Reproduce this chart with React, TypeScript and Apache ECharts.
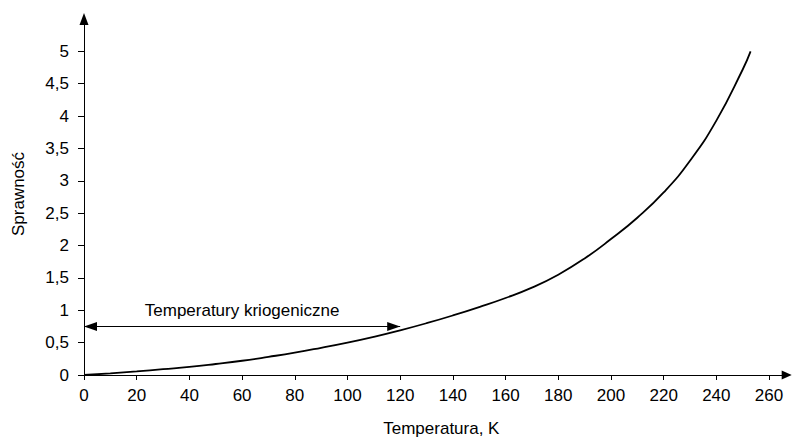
import React, { useEffect, useRef } from "react";
import * as echarts from "echarts";

// Temperature (K) and efficiency (COP)
const temperature = [0, 10, 20, 30, 40, 50, 60, 70, 80, 90, 100, 110, 120, 130, 140, 150, 160, 170, 180, 190, 200, 210, 220, 230, 240, 250, 253];
const efficiency = [0, 0.025, 0.055, 0.09, 0.125, 0.17, 0.22, 0.28, 0.345, 0.42, 0.5, 0.59, 0.69, 0.8, 0.92, 1.05, 1.19, 1.35, 1.55, 1.8, 2.1, 2.43, 2.82, 3.31, 3.93, 4.72, 5.0];

const xTicks = [0, 20, 40, 60, 80, 100, 120, 140, 160, 180, 200, 220, 240, 260];
const yTicks = [0, 0.5, 1, 1.5, 2, 2.5, 3, 3.5, 4, 4.5, 5];
const raisedXLabels = [240, 260];

const cryoRange = [0, 120];
const cryoLevel = 0.75;
const cryoLabel = "Temperatury kriogeniczne";
const xName = "Temperatura, K";
const yName = "Sprawność";

const FONT = "'Liberation Sans', Arial, sans-serif";

export default function App() {
  const ref = useRef<HTMLDivElement>(null);
  useEffect(() => {
    if (!ref.current) return;
    const chart = echarts.init(ref.current, null, { renderer: "svg" });
    const points = temperature.map((t, i) => [t, efficiency[i]]);
    chart.setOption({
      animation: false,
      backgroundColor: "#fff",
      textStyle: { fontFamily: FONT },
      grid: { left: 84, top: 19, width: 702.7, height: 361.7, containLabel: false },
      xAxis: {
        type: "value",
        min: 0,
        max: 266.7,
        name: xName,
        nameLocation: "middle",
        nameGap: 45,
        nameTextStyle: { fontSize: 17, color: "#000", fontFamily: FONT, padding: [0, 0, 0, 12] },
        axisLine: {
          show: true,
          symbol: ["none", "triangle"],
          symbolSize: [9, 10],
          lineStyle: { color: "#000", width: 1 },
        },
        axisTick: { show: true, length: 5, customValues: xTicks, lineStyle: { color: "#000" } },
        axisLabel: {
          customValues: xTicks,
          fontSize: 17,
          color: "#000",
          margin: 12,
          fontFamily: FONT,
          formatter: (v: number) =>
            raisedXLabels.indexOf(v) === 0 ? `{a|${v}}` : raisedXLabels.indexOf(v) === 1 ? `{b|${v}}` : String(v),
          rich: {
            a: { fontSize: 17, color: "#000", fontFamily: FONT, padding: [0, 0, 5, 0] },
            b: { fontSize: 17, color: "#000", fontFamily: FONT, padding: [0, 0, 8, 0] },
          },
        },
        splitLine: { show: false },
      },
      yAxis: {
        type: "value",
        min: 0,
        max: 5.5,
        axisLine: {
          show: true,
          symbol: ["none", "triangle"],
          symbolSize: [9, 12],
          lineStyle: { color: "#000", width: 1 },
        },
        axisTick: { show: true, length: 6, customValues: yTicks, lineStyle: { color: "#000" } },
        axisLabel: {
          customValues: yTicks,
          fontSize: 17,
          color: "#000",
          margin: 15,
          fontFamily: FONT,
          formatter: (v: number) => String(v).replace(".", ","),
        },
        splitLine: { show: false },
      },
      graphic: [
        {
          type: "text",
          x: 18,
          y: 194,
          rotation: Math.PI / 2,
          style: {
            text: yName,
            fontSize: 17,
            fontFamily: FONT,
            fill: "#000",
            align: "center",
            verticalAlign: "middle",
          },
        },
      ],
      series: [
        {
          type: "line",
          data: points,
          showSymbol: false,
          smooth: 0.5,
          lineStyle: { color: "#000", width: 1.8 },
          markLine: {
            silent: true,
            symbol: ["triangle", "triangle"],
            symbolSize: [9, 13],
            symbolOffset: [[0, 6.5], [0, 6.5]],
            lineStyle: { color: "#000", width: 1, type: "solid" },
            label: {
              show: true,
              position: "middle",
              formatter: cryoLabel,
              fontSize: 17,
              color: "#000",
              fontFamily: FONT,
              distance: 7,
            },
            data: [[{ coord: [cryoRange[0], cryoLevel] }, { coord: [cryoRange[1], cryoLevel] }]],
          },
        },
      ],
    });
    return () => chart.dispose();
  }, []);
  return (
    <div
      ref={ref}
      style={{ position: "absolute", left: 0, top: 0, width: 792, height: 442 }}
    />
  );
}
